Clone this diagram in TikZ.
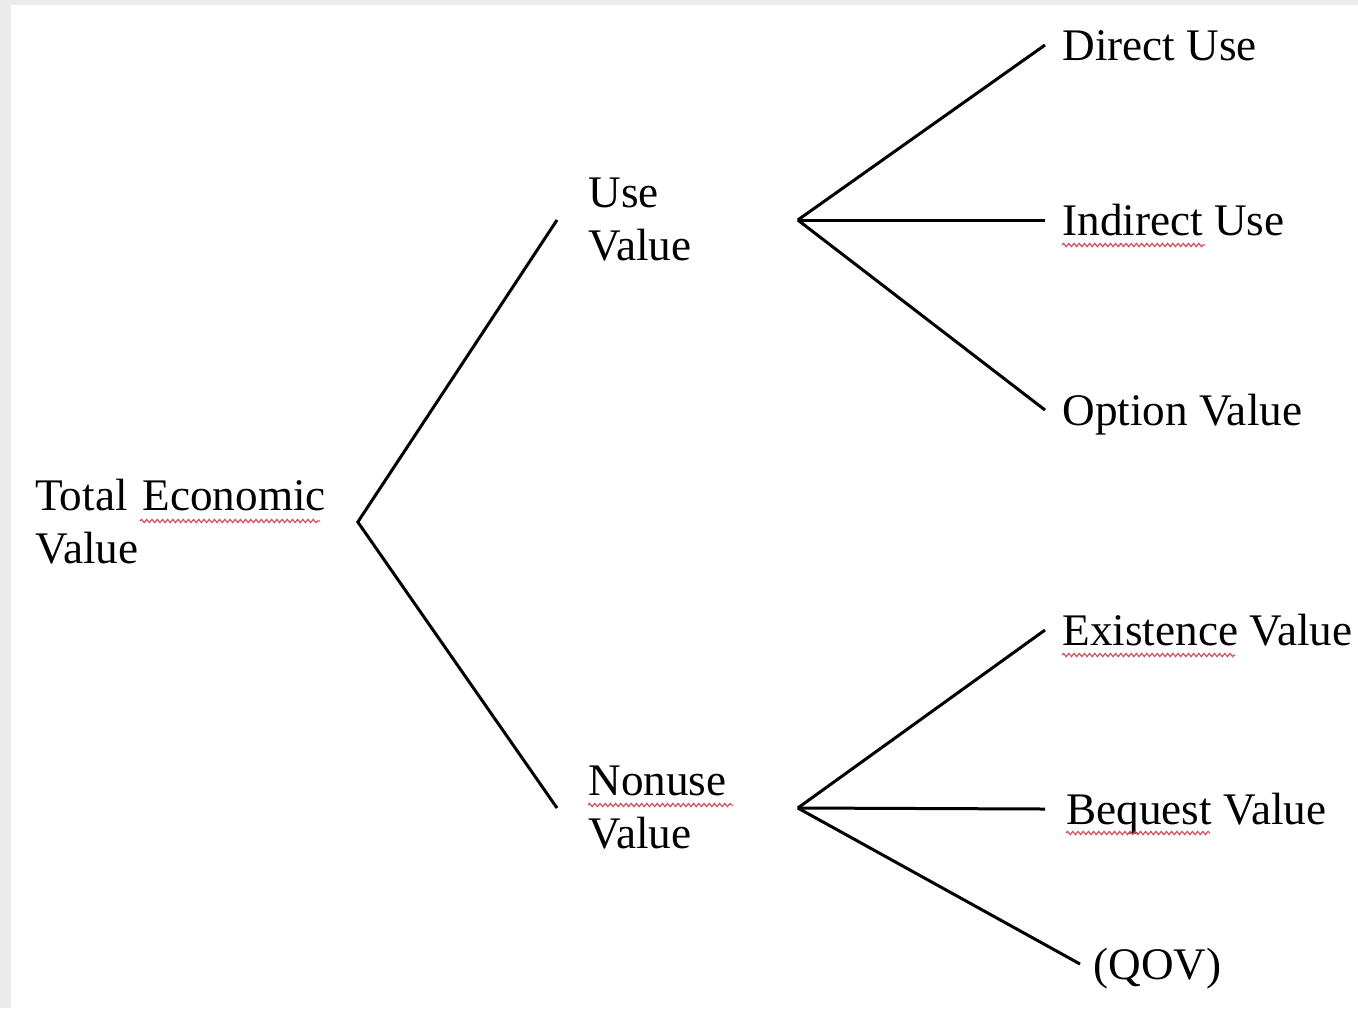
\documentclass[tikz,border=0pt]{standalone}
\usepackage{fontspec}
\setmainfont{Liberation Serif}
\usetikzlibrary{decorations.pathmorphing}
\definecolor{pagegray}{HTML}{EBEBEB}
\definecolor{spellred}{HTML}{D0505E}
\begin{document}
\begin{tikzpicture}[x=0.5pt,y=-0.5pt,font=\fontsize{22.6}{26.5}\selectfont,
  branch/.style={line width=1.5pt},
  root/.style={anchor=west,align=left,text width=161pt,inner sep=0pt},
  mid/.style={anchor=west,align=left,text width=89pt,inner xsep=15.5pt,inner ysep=0pt},
  leaf/.style={anchor=west,inner xsep=8.5pt,inner ysep=0pt,text height=15pt,text depth=0pt},
  spell/.style={draw=spellred,line width=0.6pt,decorate,decoration={snake,amplitude=0.8pt,segment length=2.6pt}}]
\useasboundingbox (0,0) rectangle (1358,1008);
\fill[pagegray] (0,0) rectangle (1358,1008);
\fill[white] (11,5) rectangle (1358,1008);
% labels
\node[root] (tev) at (35,522) {Total Economic\\Value};
\node[mid] (use) at (557,220) {Use\\Value};
\node[mid] (nonuse) at (557,808) {Nonuse\\Value};
\node[leaf] (direct) at (1045,45) {Direct Use};
\node[leaf] (indirect) at (1045,220) {Indirect Use};
\node[leaf] (option) at (1045,410) {Option Value};
\node[leaf] (exist) at (1045,630) {Existence Value};
\node[leaf,inner xsep=10.5pt] (bequest) at (1045,809) {Bequest Value};
\node[leaf,inner xsep=6.5pt] (qov) at (1080,964) {(QOV)};
% tree
\draw[branch] (use.west) -- (tev.east) -- (nonuse.west);
\foreach \n in {direct,indirect,option} \draw[branch] (use.east) -- (\n.west);
\foreach \n in {exist,bequest,qov} \draw[branch] (nonuse.east) -- (\n.west);
% spelling marks
\draw[spell] (140,521) -- (320,521);
\draw[spell] (588,805) -- (733,805);
\draw[spell] (1062,245) -- (1205,245);
\draw[spell] (1062,655) -- (1235,655);
\draw[spell] (1066,833) -- (1210,833);
\end{tikzpicture}
\end{document}
